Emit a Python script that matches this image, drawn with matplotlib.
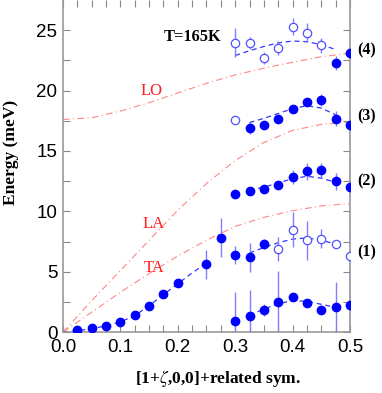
import matplotlib
matplotlib.use("Agg")
import matplotlib.pyplot as plt
import numpy as np

plt.rcParams["mathtext.fontset"] = "stix"

# ---------------- data ----------------
# acoustic branch (filled)
ac_x = [0.025, 0.05, 0.075, 0.1, 0.125, 0.15, 0.175, 0.2, 0.25, 0.275]
ac_y = [0.15, 0.33, 0.47, 0.8, 1.38, 2.2, 3.12, 4.09, 5.6, 7.82]
ac_err = [0.1, 0.1, 0.1, 0.1, 0.15, 0.2, 0.2, 0.25, 1.2, 1.6]
fit_ac_x = [0.0, 0.025, 0.05, 0.075, 0.1, 0.125, 0.15, 0.175, 0.2, 0.225, 0.25]
fit_ac_y = [0.0, 0.1, 0.3, 0.5, 0.85, 1.35, 2.2, 3.1, 4.0, 4.9, 5.7]

# branch (1) lower (filled)
b1lo_x = [0.3, 0.325, 0.35, 0.375, 0.4, 0.425, 0.45, 0.475, 0.5]
b1lo_y = [0.91, 1.3, 1.85, 2.49, 2.9, 2.43, 1.8, 2.07, 2.27]
b1lo_err = [2.4, 2.2, 0.5, 2.6, 0.3, 0.3, 0.3, 2.07, 2.27]
fit1lo_x = [0.325, 0.35, 0.375, 0.4, 0.425, 0.45, 0.475]
fit1lo_y = [1.4, 1.9, 2.35, 2.6, 2.55, 2.3, 2.05]

# branch (1) upper: filled and open
b1up_fx = [0.3, 0.325, 0.35]
b1up_fy = [6.35, 6.2, 7.32]
b1up_ferr = [0.75, 1.2, 0.4]
b1up_ox = [0.375, 0.4, 0.425, 0.45, 0.475, 0.5]
b1up_oy = [6.9, 8.48, 7.6, 7.74, 7.32, 6.3]
b1up_oerr = [1.0, 1.45, 1.6, 0.8, 0.3, 2.0]
fit1up_x = [0.325, 0.35, 0.375, 0.4, 0.425, 0.45, 0.475]
fit1up_y = [6.55, 7.0, 7.4, 7.7, 7.8, 7.6, 7.3]

# branch (2) filled
b2_x = [0.3, 0.325, 0.35, 0.375, 0.4, 0.425, 0.45, 0.475, 0.5]
b2_y = [11.47, 11.68, 11.88, 12.15, 12.84, 13.31, 13.4, 12.49, 12.0]
b2_err = [0.2, 0.2, 0.3, 0.3, 0.6, 0.7, 0.6, 0.7, 2.5]
fit2_x = [0.325, 0.35, 0.375, 0.4, 0.425, 0.45, 0.475]
fit2_y = [11.75, 12.0, 12.35, 12.7, 12.9, 12.75, 12.4]

# branch (3)
b3_fx = [0.325, 0.35, 0.375, 0.4, 0.425, 0.45, 0.475, 0.5]
b3_fy = [16.93, 17.12, 17.68, 18.5, 19.05, 19.25, 17.68, 17.12]
b3_ferr = [0.5, 0.3, 0.3, 0.3, 0.3, 0.5, 0.6, 1.5]
b3_ox = [0.3]
b3_oy = [17.6]
b3_oerr = [0.2]
fit3_x = [0.325, 0.35, 0.375, 0.4, 0.425, 0.45, 0.475]
fit3_y = [17.35, 17.7, 18.1, 18.5, 18.75, 18.55, 18.0]

# branch (4)
b4_ox = [0.3, 0.325, 0.35, 0.375, 0.4, 0.425, 0.45]
b4_oy = [23.94, 23.94, 22.73, 23.53, 25.27, 24.8, 23.75]
b4_oerr = [1.2, 0.5, 0.5, 0.6, 0.7, 0.8, 0.6]
b4_fx = [0.475, 0.5]
b4_fy = [22.29, 23.12]
b4_ferr = [0.6, 0.8]
fit4_x = [0.3, 0.325, 0.35, 0.375, 0.4, 0.425, 0.45, 0.475]
fit4_y = [22.9, 23.3, 23.65, 23.95, 24.1, 24.05, 23.8, 23.4]

# model dispersions (red dash-dot)
lo_x = [0.0, 0.05, 0.1, 0.15, 0.2, 0.25, 0.3, 0.35, 0.4, 0.45, 0.5]
lo_y = [17.6, 17.75, 18.3, 19.0, 19.8, 20.6, 21.3, 21.85, 22.35, 22.8, 23.1]
la_x = [0.0, 0.05, 0.1, 0.15, 0.2, 0.25, 0.3, 0.35, 0.4, 0.45, 0.5]
la_y = [0.0, 2.6, 5.1, 7.6, 10.1, 12.3, 14.2, 15.7, 16.7, 17.2, 17.4]
ta_x = [0.0, 0.05, 0.1, 0.15, 0.2, 0.25, 0.3, 0.35, 0.4, 0.45, 0.5]
ta_y = [0.0, 1.65, 3.3, 4.85, 6.3, 7.6, 8.75, 9.5, 10.05, 10.45, 10.64]

branch_labels = ["(4)", "(3)", "(2)", "(1)"]
branch_label_y = [23.3, 17.9, 12.5, 6.6]
model_labels = ["LO", "LA", "TA"]
model_label_xy = [(0.155, 20.0), (0.158, 8.98), (0.158, 5.33)]

# ---------------- plot ----------------
fig = plt.figure(figsize=(3.82, 3.93), dpi=100)
ax = fig.add_axes([0.165, 0.155, 0.751, 0.845])

red = "#ff7070"
blue = "#0000ff"
ebc = "#7f7fff"

for xs, ys in [(lo_x, lo_y), (la_x, la_y), (ta_x, ta_y)]:
    ax.plot(xs, ys, color=red, lw=0.8, ls=(0, (6, 3, 1, 3)), alpha=0.85, zorder=1)

for xs, ys in [(fit_ac_x, fit_ac_y), (fit1lo_x, fit1lo_y), (fit1up_x, fit1up_y),
               (fit2_x, fit2_y), (fit3_x, fit3_y), (fit4_x, fit4_y)]:
    ax.plot(xs, ys, color=blue, lw=0.9, ls=(0, (4, 3)), alpha=0.8, zorder=2)

filled = [(ac_x, ac_y, ac_err), (b1lo_x, b1lo_y, b1lo_err), (b1up_fx, b1up_fy, b1up_ferr),
          (b2_x, b2_y, b2_err), (b3_fx, b3_fy, b3_ferr), (b4_fx, b4_fy, b4_ferr)]
for xs, ys, es in filled:
    ax.errorbar(xs, ys, yerr=es, fmt="o", ms=6, color=blue, mec=blue, ecolor=ebc,
                elinewidth=1.0, capsize=0, zorder=3)

opened = [(b1up_ox, b1up_oy, b1up_oerr), (b3_ox, b3_oy, b3_oerr), (b4_ox, b4_oy, b4_oerr)]
for xs, ys, es in opened:
    ax.errorbar(xs, ys, yerr=es, fmt="o", ms=6, mfc="white", mec="#5050ff", mew=0.9,
                ecolor=ebc, elinewidth=1.0, capsize=0, zorder=3)

ax.set_xlim(0, 0.5)
ax.set_ylim(0, 27.5)
ax.set_xticks(np.arange(0, 0.51, 0.1))
ax.set_xticks(np.arange(0, 0.51, 0.025), minor=True)
ax.set_yticks([0, 5, 10, 15, 20, 25])
ax.set_yticks(np.arange(0, 27.5, 2.5), minor=True)
ax.xaxis.set_major_formatter(matplotlib.ticker.FormatStrFormatter("%.1f"))
ax.tick_params(which="both", direction="in", top=True, right=True, color="#888888",
               length=5, width=0.8, labelsize=13.5)
ax.tick_params(axis="x", pad=5)
ax.tick_params(axis="y", pad=4)
for lab in ax.get_xticklabels() + ax.get_yticklabels():
    lab.set_family("Liberation Sans")
for sp in ax.spines.values():
    sp.set_color("#999999")
    sp.set_linewidth(1.2)
ax.spines["top"].set_visible(False)

ax.set_ylabel("Energy (meV)", family="Liberation Serif", fontweight="bold", fontsize=12.5)
ax.set_xlabel(r"[1+$\zeta$,0,0]+related sym.", family="Liberation Serif", fontweight="bold",
              fontsize=12.5)
ax.yaxis.set_label_coords(-0.152, 0.54)
ax.xaxis.set_label_coords(0.54, -0.108)

ax.text(0.226, 24.4, "T=165K", family="Liberation Serif", fontweight="bold", fontsize=11.8,
        ha="center", va="center")
for lab, yv in zip(branch_labels, branch_label_y):
    ax.text(1.025, yv / 27.5, lab, transform=ax.transAxes, family="Liberation Serif",
            fontweight="bold", fontsize=11.5, ha="left", va="center")
for lab, (xv, yv) in zip(model_labels, model_label_xy):
    ax.text(xv, yv, lab, family="Liberation Serif", color="#ff2020", fontsize=12,
            ha="center", va="center")

fig.savefig("out.png", dpi=100)
